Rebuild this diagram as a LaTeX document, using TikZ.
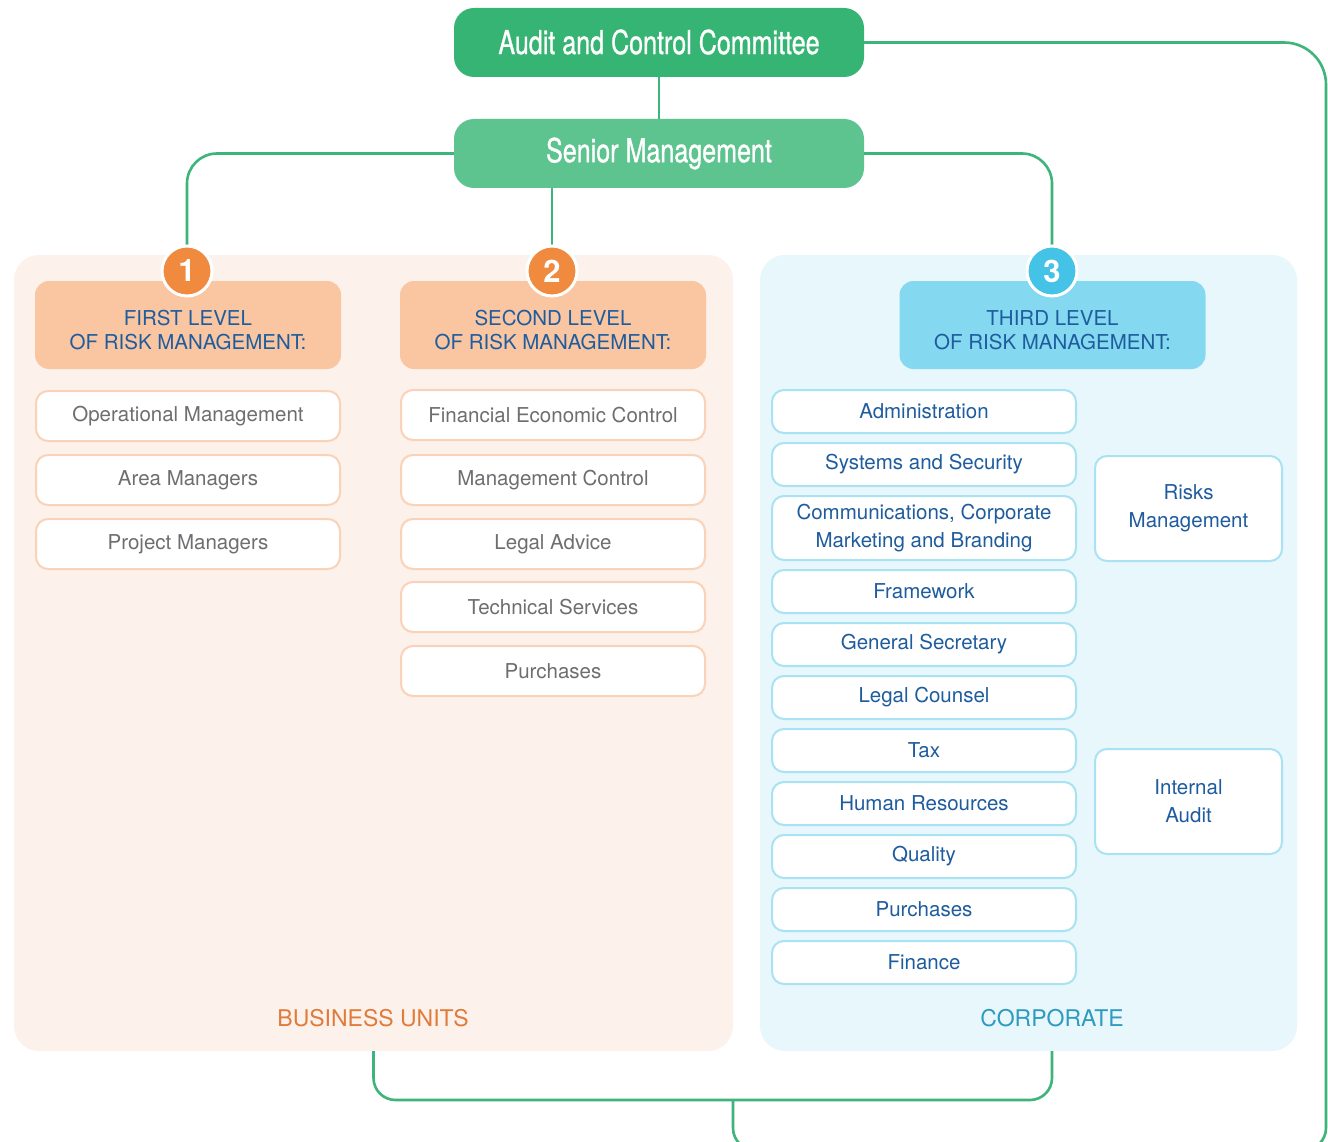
\documentclass[tikz,border=0pt]{standalone}
\usepackage{fontspec}
\setmainfont{TeX Gyre Heros}
\newfontfamily\condfont[FakeStretch=0.76,FakeBold=0.9]{TeX Gyre Heros}
\definecolor{gdark}{HTML}{36B473}
\definecolor{glight}{HTML}{5DC38F}
\definecolor{gline}{HTML}{3DB57A}
\definecolor{peachbg}{HTML}{FDF1EB}
\definecolor{bluebg}{HTML}{E7F7FC}
\definecolor{peachhd}{HTML}{F9C6A1}
\definecolor{bluehd}{HTML}{84D9F0}
\definecolor{orng}{HTML}{F08A3F}
\definecolor{cyanb}{HTML}{45C3E7}
\definecolor{navy}{HTML}{1E5C9E}
\definecolor{greytx}{HTML}{6D6E71}
\definecolor{peachbd}{HTML}{F9D2B8}
\definecolor{bluebd}{HTML}{A9E2F2}
\definecolor{orangetx}{HTML}{E07B39}
\definecolor{tealtx}{HTML}{2E9BBF}
\begin{document}
\begin{tikzpicture}[x=1pt,y=-1pt,
  topbox/.style={rounded corners=20pt, minimum width=410pt, minimum height=69pt, inner sep=0pt, text=white, font=\condfont\fontsize{33}{38}\selectfont},
  conn/.style={draw=gline, line width=2.6pt},
  badge/.style={circle, draw=white, line width=3pt, minimum size=50pt, inner sep=0pt, text=white, font=\bfseries\fontsize{31}{31}\selectfont},
  hdr/.style={rounded corners=14pt, minimum width=306pt, minimum height=88pt, inner sep=0pt},
  hdrtxt/.style={text=navy, align=center, inner sep=0pt, font=\fontsize{20.5}{24}\selectfont},
  itemA/.style={draw=peachbd, line width=2pt, fill=white, rounded corners=12pt, minimum width=304pt, minimum height=50pt, inner sep=0pt, text=greytx, font=\fontsize{20.5}{24}\selectfont},
  itemC/.style={draw=bluebd, line width=2pt, fill=white, rounded corners=12pt, minimum width=304pt, minimum height=43pt, inner sep=0pt, text=navy, align=center, font=\fontsize{20.5}{27}\selectfont},
  sideC/.style={draw=bluebd, line width=2pt, fill=white, rounded corners=12pt, minimum width=187pt, minimum height=105pt, inner sep=0pt, text=navy, align=center, font=\fontsize{20.5}{28}\selectfont},
  panel/.style={rounded corners=25pt, minimum height=796pt, inner sep=0pt}
]
\clip (0,0) rectangle (1328,1142);
\fill[white] (0,0) rectangle (1328,1142);

% panels
\node[panel, fill=peachbg, minimum width=719pt] (bu) at (373.5,653) {};
\node[panel, fill=bluebg, minimum width=537pt] (co) at (1028.5,653) {};

% top boxes
\node[topbox, fill=gdark] (audit) at (659,42.5) {\raisebox{1.5pt}{Audit and Control Committee}};
\node[topbox, fill=glight] (senior) at (659,153.5) {Senior Management};

% badges positions
\coordinate (b1pos) at (187,271);
\coordinate (b2pos) at (552,271);
\coordinate (b3pos) at (1052,271);

% connectors
\draw[conn] (audit.south) -- (senior.north);
\draw[conn, rounded corners=30pt] (senior.west) -| ([yshift=-20pt]b1pos);
\draw[conn] (b2pos |- senior.south) -- (b2pos);
\draw[conn, rounded corners=30pt] (senior.east) -| ([yshift=-20pt]b3pos);
\coordinate (loopR) at (1326,700);
\coordinate (join) at (733,1100);
\draw[conn, rounded corners=42pt] (audit.east) -| (loopR);
\draw[conn, rounded corners=22pt] (loopR) |- (900,1150) -| (join);
\draw[conn, rounded corners=22pt] (bu.south) |- (join) -| (b3pos |- co.south);

% headers
\node[hdr, fill=peachhd] (h1) at (188,325) {};
\node[hdr, fill=peachhd] (h2) at (553,325) {};
\node[hdr, fill=bluehd] (h3) at (1052.5,325) {};
\node[hdrtxt] (h1t) at ([yshift=-5pt]h1.center) {FIRST LEVEL\\OF RISK MANAGEMENT:};
\node[hdrtxt] (h2t) at ([yshift=-5pt]h2.center) {SECOND LEVEL\\OF RISK MANAGEMENT:};
\node[hdrtxt] (h3t) at ([yshift=-5pt]h3.center) {THIRD LEVEL\\OF RISK MANAGEMENT:};

% badges
\node[badge, fill=orng] (b1) at (b1pos) {1};
\node[badge, fill=orng] (b2) at (b2pos) {2};
\node[badge, fill=cyanb] (b3) at (b3pos) {3};

% first level items
\node[itemA] (a1) at (188,416) {Operational Management};
\node[itemA] (a2) at (188,480) {Area Managers};
\node[itemA] (a3) at (188,544) {Project Managers};

% second level items
\node[itemA] (s1) at (553,415) {Financial Economic Control};
\node[itemA] (s2) at (553,480) {Management Control};
\node[itemA] (s3) at (553,544) {Legal Advice};
\node[itemA] (s4) at (553,607) {Technical Services};
\node[itemA] (s5) at (553,671) {Purchases};

% third level items
\node[itemC] (c1) at (924,411.5) {Administration};
\node[itemC] (c2) at (924,464.5) {Systems and Security};
\node[itemC, minimum height=64pt] (c3) at (924,528) {\raisebox{-2pt}{\begin{tabular}{@{}c@{}}Communications, Corporate\\[1pt]Marketing and Branding\end{tabular}}};
\node[itemC] (c4) at (924,591.5) {Framework};
\node[itemC] (c5) at (924,644.5) {General Secretary};
\node[itemC] (c6) at (924,697.5) {Legal Counsel};
\node[itemC] (c7) at (924,750.5) {Tax};
\node[itemC] (c8) at (924,803.5) {Human Resources};
\node[itemC] (c9) at (924,856.5) {Quality};
\node[itemC] (c10) at (924,909.5) {Purchases};
\node[itemC] (c11) at (924,962.5) {Finance};

\node[sideC] (rm) at (1188.5,508.5) {Risks\\Management};
\node[sideC] (ia) at (1188.5,801.5) {Internal\\Audit};

% panel labels
\node[text=orangetx, inner sep=0pt, font=\fontsize{23}{26}\selectfont] (bul) at (373,1018) {BUSINESS UNITS};
\node[text=tealtx, inner sep=0pt, font=\fontsize{23}{26}\selectfont] (col) at (1052,1018) {CORPORATE};
\end{tikzpicture}
\end{document}
